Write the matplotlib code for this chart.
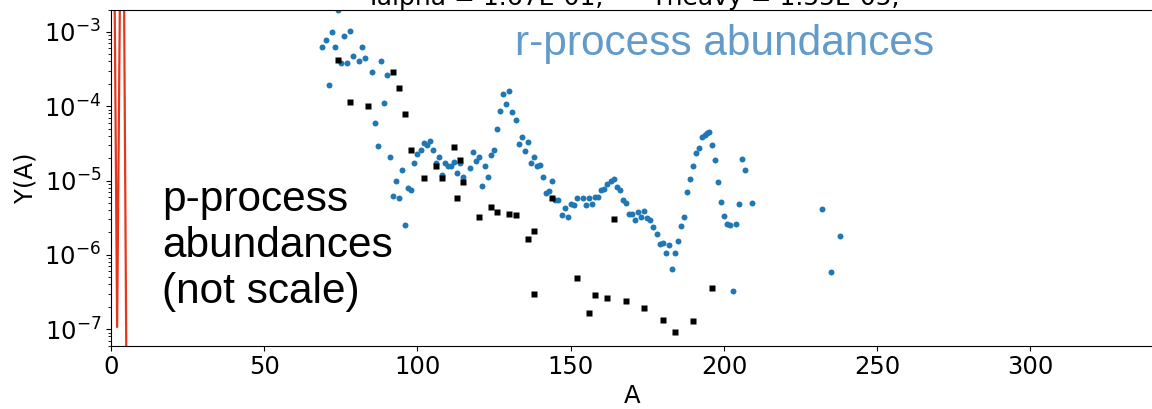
import numpy as np
import matplotlib
matplotlib.use("Agg")
import matplotlib.pyplot as plt

# light-nuclei part of the network abundance curve
light_A = [1, 2, 3, 4, 5]
light_Y = [3e-2, 1.07e-7, 8e-3, 1.67e-1, 4e-8]

# solar r-process abundances
r_A = [69, 70, 71, 72, 73, 74, 75, 76, 77, 78, 79, 81, 82, 83, 85, 86, 87, 88, 89, 90,
       91, 92, 93, 94, 95, 96, 97, 98, 99, 100, 101, 102, 103, 104, 105, 106, 107, 108, 109, 110,
       111, 112, 113, 114, 115, 117, 118, 119, 120, 121, 122, 123, 124, 125, 126, 127, 128, 129, 130, 131,
       132, 133, 134, 135, 136, 137, 138, 139, 140, 141, 142, 143, 144, 145, 146, 147, 148, 149, 150, 151,
       152, 154, 155, 156, 157, 158, 159, 160, 161, 162, 163, 164, 165, 166, 167, 168, 169, 170, 171, 172,
       173, 174, 175, 176, 177, 178, 179, 180, 181, 182, 183, 184, 185, 186, 187, 188, 189, 190, 191, 192,
       193, 193.7, 194.4, 195.1, 196, 197, 198, 199, 200, 201, 202, 203, 204, 205, 206, 207, 209, 232, 235, 238]
r_Y = [6.3e-4, 7.8e-4, 1.95e-4, 1.0e-3, 6.3e-4, 2.0e-3, 3.8e-4, 8.9e-4, 3.8e-4, 1.02e-3,
       4.8e-4, 4.1e-4, 6.2e-4, 4.4e-4, 2.9e-4, 5.9e-5, 2.95e-5, 4.1e-4, 1.12e-4, 2.6e-4,
       2.1e-5, 6.2e-6, 9.8e-6, 5.9e-6, 1.38e-5, 2.5e-6, 7.9e-6, 7.4e-6, 1.74e-5, 2.3e-5,
       2.6e-5, 3.2e-5, 3.0e-5, 3.4e-5, 2.6e-5, 1.74e-5, 2.1e-5, 1.17e-5, 1.74e-5, 1.58e-5,
       1.55e-5, 1.78e-5, 1.26e-5, 1.7e-5, 1.1e-5, 1.48e-5, 2.45e-5, 1.86e-5, 2.1e-5, 8.5e-6,
       1.55e-5, 1.12e-5, 2.2e-5, 2.6e-5, 4.9e-5, 8.5e-5, 1.45e-4, 1.07e-4, 1.58e-4, 8.3e-5,
       6.6e-5, 3.1e-5, 3.9e-5, 2.5e-5, 3.3e-5, 1.7e-5, 2.1e-5, 1.58e-5, 1.62e-5, 1.1e-5,
       6.9e-6, 7.2e-6, 1.0e-5, 5.5e-6, 5.4e-6, 3.4e-6, 4.3e-6, 3.2e-6, 4.9e-6, 4.7e-6,
       5.75e-6, 5.9e-6, 4.7e-6, 5.75e-6, 4.8e-6, 6.0e-6, 6.0e-6, 7.4e-6, 7.6e-6, 9.1e-6,
       1.0e-5, 1.05e-5, 8.3e-6, 7.4e-6, 5.5e-6, 5.0e-6, 3.5e-6, 3.6e-6, 2.95e-6, 3.8e-6,
       3.2e-6, 3.9e-6, 3.1e-6, 2.95e-6, 2.4e-6, 1.9e-6, 1.38e-6, 1.45e-6, 1.07e-6, 1.35e-6,
       6.5e-7, 1.05e-6, 1.55e-6, 2.45e-6, 3.2e-6, 7.1e-6, 1.05e-5, 1.55e-5, 2.35e-5, 2.7e-5,
       3.9e-5, 4.1e-5, 4.3e-5, 4.5e-5, 3.0e-5, 1.9e-5, 9.5e-6, 5.1e-6, 3.3e-6, 2.6e-6,
       2.55e-6, 3.3e-7, 2.6e-6, 4.9e-6, 1.95e-5, 1.4e-5, 5.0e-6, 4.2e-6, 5.9e-7, 1.78e-6]

# p-process nuclei (arbitrary normalisation)
p_A = [74, 78, 84, 92, 94, 96, 98, 102, 106, 108, 112, 113, 114, 115, 120, 124, 126,
       130, 132, 136, 138, 138, 144, 152, 156, 158, 162, 164, 168, 174, 180, 184, 190, 196]
p_Y = [4.2e-4, 1.15e-4, 1.0e-4, 2.9e-4, 1.78e-4, 7.8e-5, 2.6e-5, 1.07e-5, 1.55e-5, 1.07e-5,
       2.8e-5, 5.9e-6, 1.9e-5, 9.5e-6, 3.2e-6, 4.4e-6, 3.8e-6, 3.5e-6, 3.4e-6, 1.66e-6,
       2.1e-6, 3.0e-7, 5.9e-6, 4.9e-7, 1.66e-7, 2.9e-7, 2.6e-7, 3.0e-6, 2.4e-7, 1.9e-7,
       1.32e-7, 9.1e-8, 1.29e-7, 3.6e-7]

title_text = "Yalpha = 1.67E-01,      Yheavy = 1.55E-05,"

fig = plt.figure(figsize=(11.52, 4.09), dpi=100)
ax = fig.add_axes([111 / 1152, 63.3 / 409, 1042 / 1152, 336.2 / 409])

ax.plot(light_A, light_Y, color="#e8361c", lw=1.6)
ax.plot(r_A, r_Y, "o", color="#1f77b4", ms=4.3, mec="none")
ax.plot(p_A, p_Y, "s", color="black", ms=3.9, mec="none")

ax.set_yscale("log")
ax.set_xlim(0, 340)
ax.set_ylim(6e-8, 2e-3)
ax.set_xticks([0, 50, 100, 150, 200, 250, 300])
ax.tick_params(labelsize=17.5)
ax.set_xlabel("A", fontsize=17.5, labelpad=3)
ax.set_ylabel("Y(A)", fontsize=17.5, labelpad=5)
ax.set_title(title_text, fontsize=18, pad=3.5)

ax.text(131.7, 10 ** -3.31, "r-process abundances", fontsize=30.5,
        family="Liberation Sans", color="#629bca", va="baseline")
# multi-line text: the baseline anchor sits on the last line
ax.text(16.7, 10 ** -6.65, "p-process\nabundances\n(not scale)", fontsize=30.5,
        family="Liberation Sans", color="black", va="baseline", linespacing=1.2)

fig.savefig("out.png", dpi=100)
